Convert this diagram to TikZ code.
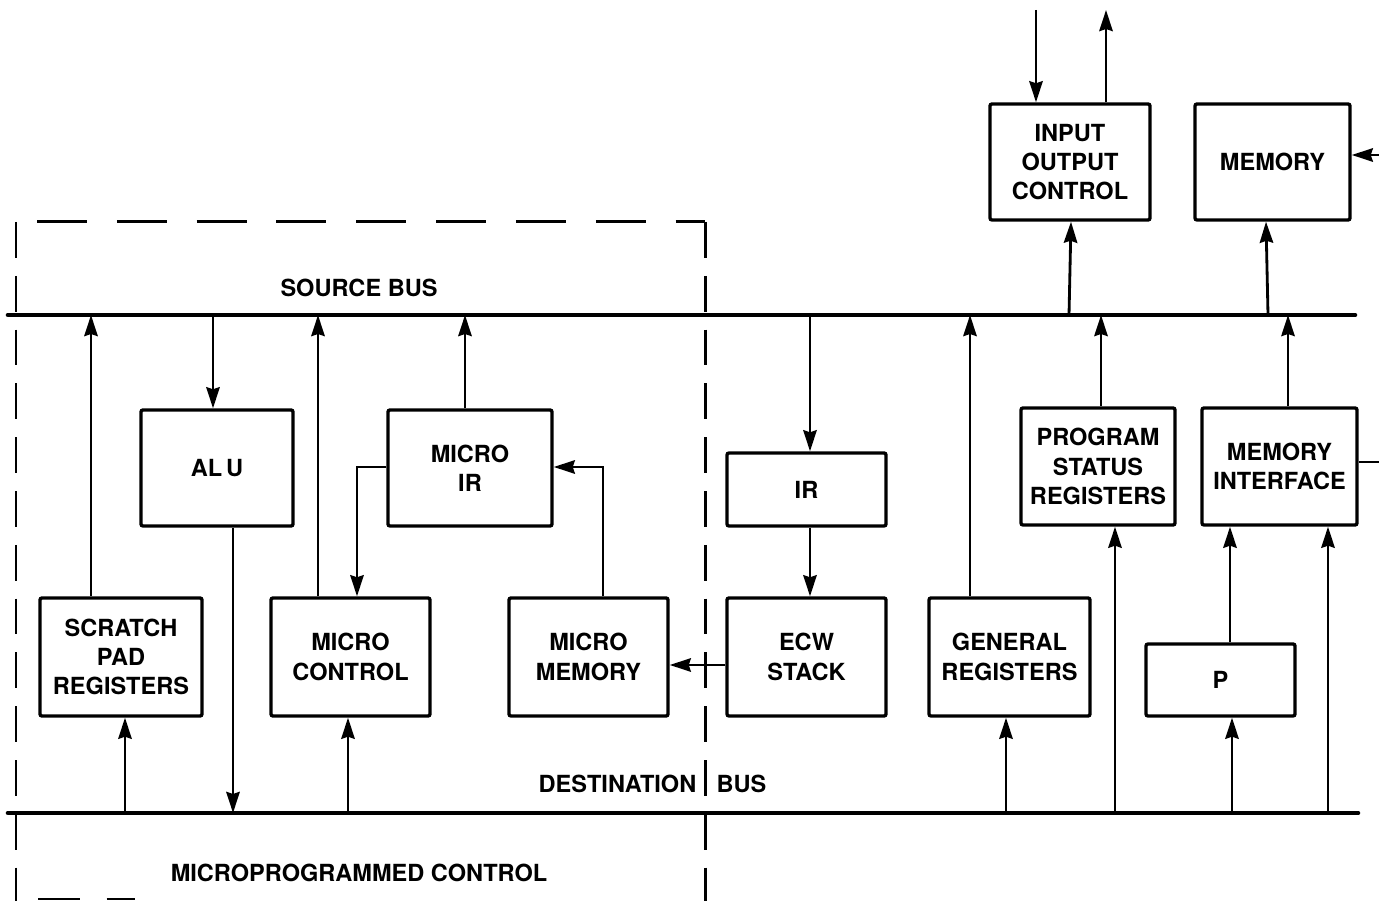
\documentclass[tikz,border=0pt]{standalone}
\usepackage{fontspec}
\setmainfont{TeX Gyre Heros}
\usetikzlibrary{arrows.meta}
\begin{document}
\begin{tikzpicture}[x=0.01cm,y=-0.01cm,
  lbl/.style={font=\fontsize{6.7}{8.3}\selectfont\bfseries, align=center, inner sep=0pt},
  blk/.style={lbl, draw, line width=0.95pt, rounded corners=0.6pt},
  bus/.style={line width=1.3pt, line cap=round},
  arr/.style={line width=0.8pt, -{Stealth[length=6pt,width=3.8pt,inset=0.6pt]}},
  wire/.style={line width=0.8pt},
  hdash/.style={line width=0.85pt, dash pattern=on 14.2pt off 8.5pt},
  vdash/.style={line width=0.85pt, dash pattern=on 10.2pt off 5.1pt}]
\useasboundingbox (0,0) rectangle (1379,901);

% microprogrammed control boundary
\draw[hdash] (37,222) -- (705,222);
\draw[vdash] (16,222) -- (16,901);
\draw[vdash] (705,222) -- (705,901);
\draw[line width=0.85pt, dash pattern=on 11.9pt off 7.6pt] (38,899) -- (135,899);

% buses
\coordinate (sb) at (8,315);
\coordinate (sbe) at (1355,315);
\coordinate (db) at (8,813);
\coordinate (dbe) at (1358,813);
\draw[bus] (sb) -- (sbe);
\draw[bus] (db) -- (dbe);

% functional blocks
\node[blk, minimum width=1.62cm, minimum height=1.18cm] (scratch) at (121,657) {SCRATCH\\PAD\\REGISTERS};
\node[blk, minimum width=1.52cm, minimum height=1.16cm] (alu) at (217,468) {AL\,U};
\node[blk, minimum width=1.59cm, minimum height=1.18cm] (mctrl) at (350.5,657) {MICRO\\CONTROL};
\node[blk, minimum width=1.64cm, minimum height=1.16cm] (mir) at (470,468) {MICRO\\IR};
\node[blk, minimum width=1.59cm, minimum height=1.18cm] (mmem) at (588.5,657) {MICRO\\MEMORY};
\node[blk, minimum width=1.59cm, minimum height=0.73cm] (ir) at (806.5,489.5) {IR};
\node[blk, minimum width=1.59cm, minimum height=1.18cm] (ecw) at (806.5,657) {ECW\\STACK};
\node[blk, minimum width=1.61cm, minimum height=1.18cm] (gen) at (1009.5,657) {GENERAL\\REGISTERS};
\node[blk, minimum width=1.54cm, minimum height=1.17cm] (psr) at (1098,466.5) {PROGRAM\\STATUS\\REGISTERS};
\node[blk, minimum width=1.55cm, minimum height=1.17cm] (mif) at (1279.5,466.5) {MEMORY\\INTERFACE};
\node[blk, minimum width=1.49cm, minimum height=0.72cm] (p) at (1220.5,680) {P};
\node[blk, minimum width=1.60cm, minimum height=1.16cm] (ioc) at (1070,162) {INPUT\\OUTPUT\\CONTROL};
\node[blk, minimum width=1.55cm, minimum height=1.16cm] (mem) at (1272.5,162) {MEMORY};

% bus labels
\node[lbl] (srclbl) at (359,288) {SOURCE BUS};
\node[lbl, anchor=east] (dstlbl) at (697,784) {DESTINATION};
\node[lbl, anchor=west] (dstbus) at (716,784) {BUS};
\node[lbl] (mpclbl) at (359,873) {MICROPROGRAMMED CONTROL};

% microprogrammed control section
\draw[arr] (91,0 |- scratch.north) -- (91,0 |- sb);
\draw[arr] (125,0 |- db) -- (125,0 |- scratch.south);
\draw[arr] (213,0 |- sb) -- (213,0 |- alu.north);
\draw[arr] (233,0 |- alu.south) -- (233,0 |- db);
\draw[arr] (318,0 |- mctrl.north) -- (318,0 |- sb);
\draw[arr] (348,0 |- db) -- (348,0 |- mctrl.south);
\draw[arr] (465,0 |- mir.north) -- (465,0 |- sb);
\draw[arr] (mir.west |- 0,467) -| (357,0 |- mctrl.north);
\draw[arr] (603,0 |- mmem.north) |- (mir.east |- 0,467);
\draw[arr] (ecw.west |- 0,665) -- (mmem.east |- 0,665);

% instruction path
\draw[arr] (810,0 |- sb) -- (810,0 |- ir.north);
\draw[arr] (810,0 |- ir.south) -- (810,0 |- ecw.north);

% registers
\draw[arr] (970,0 |- gen.north) -- (970,0 |- sb);
\draw[arr] (1006,0 |- db) -- (1006,0 |- gen.south);
\draw[arr] (1101,0 |- psr.north) -- (1101,0 |- sb);
\draw[arr] (1115,0 |- db) -- (1115,0 |- psr.south);

% input/output control
\coordinate (ioin) at (1036,10);
\coordinate (ioout) at (1106,10);
\draw[arr] (1069,0 |- sb) -- (1071,0 |- ioc.south);
\draw[arr] (ioin) -- (ioin |- ioc.north);
\draw[arr] (ioout |- ioc.north) -- (ioout);

% memory
\coordinate (memin) at (1379,155);
\coordinate (mifout) at (1379,462);
\draw[arr] (1268,0 |- sb) -- (1266,0 |- mem.south);
\draw[arr] (memin) -- (memin -| mem.east);
\draw[arr] (1288,0 |- mif.north) -- (1288,0 |- sb);
\draw[wire] (mif.east |- mifout) -- (mifout);
\draw[arr] (1230,0 |- p.north) -- (1230,0 |- mif.south);
\draw[arr] (1232,0 |- db) -- (1232,0 |- p.south);
\draw[arr] (1328,0 |- db) -- (1328,0 |- mif.south);
\end{tikzpicture}
\end{document}
